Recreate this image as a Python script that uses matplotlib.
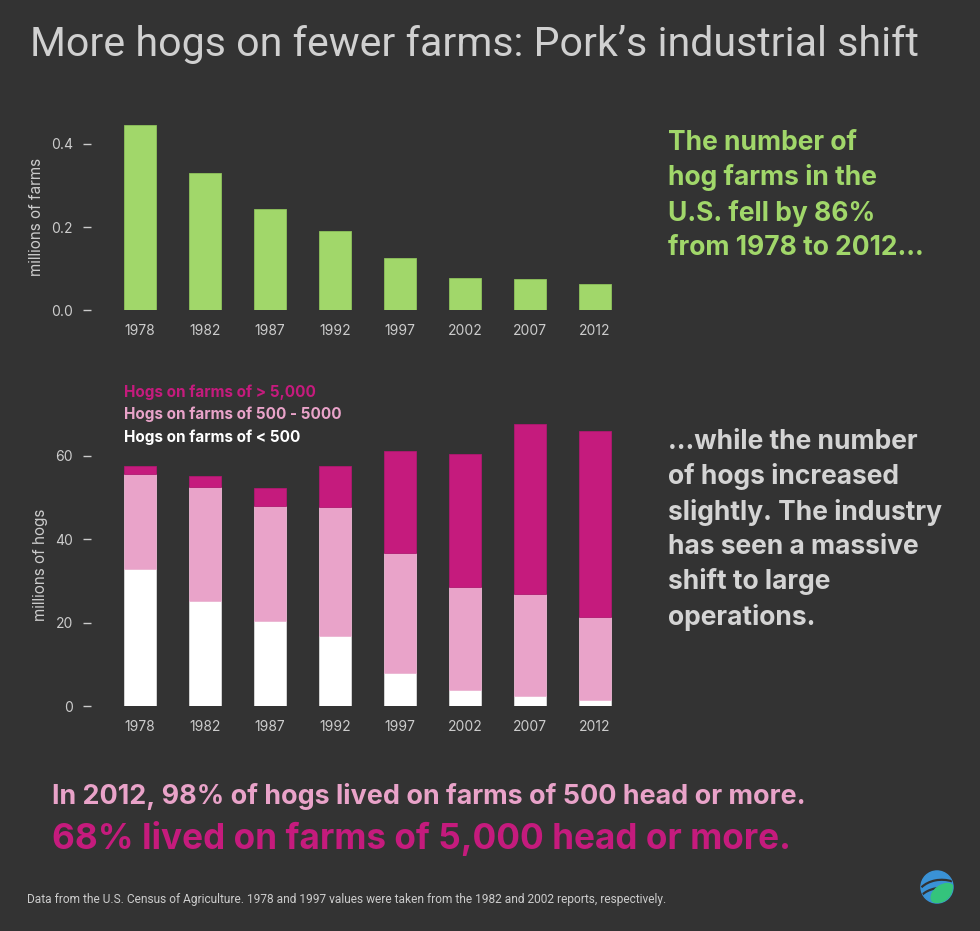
import matplotlib.pyplot as plt
import matplotlib.patches as mpatches
import numpy as np

# ==== data ====
years = ["1978", "1982", "1987", "1992", "1997", "2002", "2007", "2012"]
farms = [0.445, 0.330, 0.243, 0.191, 0.125, 0.078, 0.075, 0.063]   # millions of farms

# cumulative tops of the stacked bars, millions of hogs
hogs_small = [32.9, 25.2, 20.5, 16.8, 8.0, 3.9, 2.5, 1.4]        # < 500
hogs_mid_top = [55.6, 52.6, 48.0, 47.8, 36.7, 28.7, 27.0, 21.3]  # 500 - 5000
hogs_total = [57.6, 55.3, 52.3, 57.5, 61.2, 60.4, 67.7, 66.0]    # > 5000

hogs_mid = [m - s for m, s in zip(hogs_mid_top, hogs_small)]
hogs_big = [t - m for t, m in zip(hogs_total, hogs_mid_top)]

bg = "#333333"
green = "#a1d76a"
pink = "#e9a3c9"
magenta = "#c51b7d"
grey = "#cccccc"
bold_font = ["Inter", "DejaVu Sans"]

plt.rcParams["font.family"] = ["Inter", "DejaVu Sans"]

W, H = 980, 931
fig = plt.figure(figsize=(W / 100, H / 100), dpi=100, facecolor=bg)


def px_axes(left, top, right, bottom):
    return fig.add_axes([left / W, 1 - bottom / H, (right - left) / W, (bottom - top) / H])


def style(ax, ylabel):
    ax.set_facecolor(bg)
    for s in ax.spines.values():
        s.set_visible(False)
    ax.tick_params(axis="x", length=0, pad=10, colors=grey, labelsize=10)
    ax.tick_params(axis="y", length=6, width=1, pad=7, colors=grey, labelsize=10, direction="out")
    ax.set_ylabel(ylabel, color=grey, fontsize=11, labelpad=5)
    ax.set_xlim(-0.75, 7.4)


x = np.arange(len(years))

# ==== top chart: farms ====
ax1 = px_axes(91, 122.9, 621, 310.3)
ax1.bar(x, farms, width=0.5, color=green, edgecolor="#8fc25c", linewidth=0.6)
style(ax1, "millions of farms")
ax1.set_ylim(0, 0.45)
ax1.set_yticks([0.0, 0.2, 0.4])
ax1.set_yticklabels(["0.0", "0.2", "0.4"])
ax1.set_xticks(x)
ax1.set_xticklabels(years)

# ==== bottom chart: hogs ====
ax2 = px_axes(91, 422.6, 621, 706.3)
ax2.bar(x, hogs_small, width=0.5, color="white", edgecolor="#dddddd", linewidth=0.6)
ax2.bar(x, hogs_mid, width=0.5, bottom=hogs_small, color=pink, edgecolor="#f0b8d6", linewidth=0.6)
ax2.bar(x, hogs_big, width=0.5, bottom=hogs_mid_top, color=magenta, edgecolor="#b01870", linewidth=0.6)
style(ax2, "millions of hogs")
ax2.set_ylim(0, 68)
ax2.set_yticks([0, 20, 40, 60])
ax2.set_xticks(x)
ax2.set_xticklabels(years)

# legend as coloured text
fig.text(124 / W, 1 - 392 / H, "Hogs on farms of > 5,000", color=magenta, fontsize=11,
         fontweight="bold", va="center", family=bold_font)
fig.text(124 / W, 1 - 414 / H, "Hogs on farms of 500 - 5000", color=pink, fontsize=11,
         fontweight="bold", va="center", family=bold_font)
fig.text(124 / W, 1 - 437 / H, "Hogs on farms of < 500", color="white", fontsize=11,
         fontweight="bold", va="center", family=bold_font)

# ==== texts ====
fig.text(30 / W, 1 - 45 / H, "More hogs on fewer farms: Pork\u2019s industrial shift",
         color="#d0d0d0", fontsize=29.6, fontweight="normal", va="center",
         family=["Roboto", "DejaVu Sans"])

fig.text(668 / W, 1 - 130 / H,
         "The number of\nhog farms in the\nU.S. fell by 86%\nfrom 1978 to 2012...",
         color=green, fontsize=19, fontweight="bold", va="top", linespacing=1.4,
         family=bold_font)

fig.text(668 / W, 1 - 429 / H,
         "...while the number\nof hogs increased\nslightly. The industry\nhas seen a massive\nshift to large\noperations.",
         color="#d4d4d4", fontsize=19, fontweight="bold", va="top", linespacing=1.4,
         family=bold_font)

fig.text(52 / W, 1 - 797 / H, "In 2012, 98% of hogs lived on farms of 500 head or more.",
         color=pink, fontsize=19.4, fontweight="bold", va="center", family=bold_font)
fig.text(52 / W, 1 - 838 / H, "68% lived on farms of 5,000 head or more.",
         color=magenta, fontsize=25.3, fontweight="bold", va="center", family=bold_font)

fig.text(27 / W, 1 - 899 / H,
         "Data from the U.S. Census of Agriculture. 1978 and 1997 values were taken from the 1982 and 2002 reports, respectively.",
         color=grey, fontsize=8.6, va="center", family=["Roboto", "DejaVu Sans"])

# small logo in the corner: blue globe with a green leaf
logo = fig.add_axes([920 / W, 1 - 905 / H, 34 / W, 36 / H])
logo.set_xlim(-1.06, 1.06)
logo.set_ylim(-1.12, 1.12)
logo.set_aspect("equal")
logo.axis("off")
globe = mpatches.Circle((0, 0), 1.0, color="#3a92d6")
logo.add_patch(globe)
for y0 in (0.45, -0.05):
    arc = mpatches.Arc((0.3, y0 - 1.2), 3.2, 2.4, theta1=60, theta2=150, color=bg, lw=1.6)
    arc.set_clip_path(globe)
    logo.add_patch(arc)
leaf = mpatches.Ellipse((0.35, -0.4), 1.6, 1.0, angle=35, color="#34c47c")
leaf.set_clip_path(globe)
logo.add_patch(leaf)

fig.savefig("out.png", dpi=100, facecolor=bg)
